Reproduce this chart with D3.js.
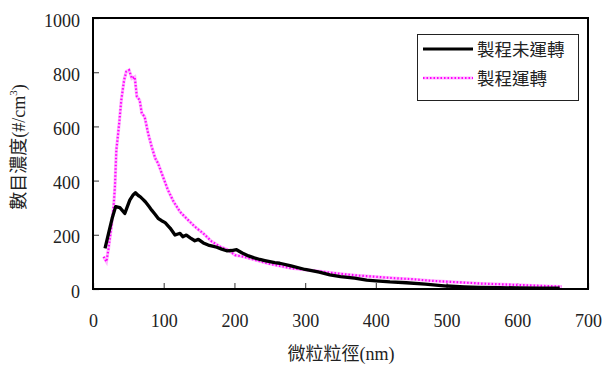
<!DOCTYPE html>
<html><head><meta charset="utf-8">
<script src="https://cdn.jsdelivr.net/npm/d3@7/dist/d3.min.js"></script>
<style>
body{margin:0;background:#fff;}
svg{display:block;}
</style></head>
<body>
<svg id="c" width="603" height="366"></svg>
<script>
const xTicks=[0,100,200,300,400,500,600,700];
const yTicks=[0,200,400,600,800,1000];
const seriesNames=["製程未運轉","製程運轉"];
const offX=[17,22,27,32,38,45,52,57,60,64,67,71,74,79,83,88,92,97,102,109,116,120,123,127,132,138,144,149,156,163,169,175,182,189,196,203,211,220,228,236,243,250,257,264,280,300,320,335,350,370,387,400,420,443,470,500,525,547,575,600,630,660];
const offY=[150,205,260,304,300,279,328,348,355,345,340,330,322,305,291,275,261,252,245,225,199,203,205,193,199,188,178,183,170,162,158,154,147,141,142,145,133,122,115,109,105,101,97,95,85,72,62,52,46,40,33,30,26,23,18,11,8,6,5,4,3,3];
const onX=[15,19,22,26,29,31,33,35,37,40,44,47,51,55,59,62,66,69,73,78,83,88,92,99,106,114,123,132,144,156,168,180,191,201,213,227,246,264,280,295,312,330,350,378,400,425,453,475,500,530,550,571,600,630,663];
const onY=[119,101,150,230,300,377,513,560,611,697,771,802,808,777,783,710,697,648,636,574,525,482,464,414,365,322,285,261,230,205,175,156,144,125,119,109,95,85,77,72,68,62,56,49,45,40,36,31,27,23,20,18,15,12,9];

const SERIF='"Liberation Serif","Times New Roman",Times,serif';
const CJK='"Noto Sans CJK TC","Noto Sans CJK SC",sans-serif';

const svg=d3.select("#c");
const L=93,R=588,T=18,B=289;
const x=d3.scaleLinear().domain([0,700]).range([L,R]);
const y=d3.scaleLinear().domain([0,1000]).range([B,T]);

const gx=svg.append("g").attr("transform",`translate(0,${B})`)
  .call(d3.axisBottom(x).tickValues(xTicks).tickSize(-6).tickPadding(25).tickFormat(d3.format("d")));
const gy=svg.append("g").attr("transform",`translate(${L},0)`)
  .call(d3.axisLeft(y).tickValues(yTicks).tickSize(-6).tickPadding(13).tickFormat(d3.format("d")));
[gx,gy].forEach(g=>{
  g.select(".domain").remove();
  g.attr("font-family",null).attr("font-size",null);
  g.selectAll(".tick line").attr("stroke","#555").attr("stroke-width",1.2);
  g.selectAll(".tick text").attr("fill","#222")
    .style("font-family",SERIF).style("font-size","18px");
});
gy.selectAll(".tick text").attr("dy","0.45em");

const line=d3.line().x(d=>x(d[0])).y(d=>y(d[1]));
const offData=offX.map((v,i)=>[v,offY[i]]);
const onData=onX.map((v,i)=>[v,onY[i]]);

svg.append("path").datum(onData).attr("d",line).attr("fill","none")
  .attr("stroke","#ffb8ff").attr("stroke-width",3.2);
svg.append("path").datum(onData).attr("d",line).attr("fill","none")
  .attr("stroke","#ff00ff").attr("stroke-width",2.2).attr("stroke-dasharray","1.5,2");
svg.append("path").datum(offData).attr("d",line).attr("fill","none")
  .attr("stroke","#000").attr("stroke-width",3.3).attr("stroke-linejoin","round");

svg.append("rect").attr("x",L).attr("y",T).attr("width",R-L).attr("height",B-T)
  .attr("fill","none").attr("stroke","#000").attr("stroke-width",2);

const lg=svg.append("g");
lg.append("rect").attr("x",417.5).attr("y",34.5).attr("width",161).attr("height",66)
  .attr("fill","#fff").attr("stroke","#222").attr("stroke-width",1);
lg.append("line").attr("x1",423).attr("x2",473).attr("y1",49).attr("y2",49)
  .attr("stroke","#000").attr("stroke-width",3);
lg.append("line").attr("x1",423).attr("x2",473).attr("y1",78).attr("y2",78)
  .attr("stroke","#ffb8ff").attr("stroke-width",3);
lg.append("line").attr("x1",423).attr("x2",473).attr("y1",78).attr("y2",78)
  .attr("stroke","#ff00ff").attr("stroke-width",2).attr("stroke-dasharray","1.5,2");
lg.selectAll("text.leg").data(seriesNames).enter().append("text")
  .attr("x",477).attr("y",(d,i)=>55.5+i*29).style("font-family",CJK).style("font-size","17.5px")
  .attr("fill","#222").text(d=>d);

const xt=svg.append("text").attr("x",341).attr("y",360).attr("text-anchor","middle")
  .style("font-family",CJK).style("font-size","18px").attr("fill","#222");
xt.append("tspan").text("微粒粒徑");
xt.append("tspan").style("font-family",SERIF).text("(nm)");

const yt=svg.append("text").attr("transform","translate(25,147) rotate(-90)").attr("text-anchor","middle")
  .style("font-family",CJK).style("font-size","18px").attr("fill","#222");
yt.append("tspan").text("數目濃度");
yt.append("tspan").style("font-family",SERIF).text("(#/cm");
yt.append("tspan").style("font-family",SERIF).style("font-size","11px").attr("dy",-8).text("3");
yt.append("tspan").style("font-family",SERIF).attr("dy",8).text(")");
</script>
</body></html>
